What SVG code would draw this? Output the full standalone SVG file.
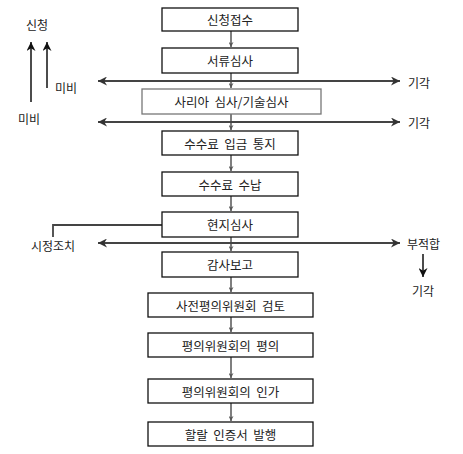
<svg xmlns="http://www.w3.org/2000/svg" width="463" height="454" viewBox="0 0 463 454">
<style>
.box{fill:#fff;stroke:#111;stroke-width:1.3}
.gbox{fill:#fff;stroke:#777;stroke-width:1.3}
.t{font-family:"Noto Sans CJK KR","Noto Sans",sans-serif;font-size:12.5px;fill:#222;text-anchor:middle;dominant-baseline:central}
.lbl{font-family:"Noto Sans CJK KR","Noto Sans",sans-serif;font-size:12px;fill:#222;dominant-baseline:central}
.v{stroke:#555;stroke-width:1.5;fill:none;marker-end:url(#sm)}
.h{stroke:#444;stroke-width:2;fill:none;marker-end:url(#big)}
.k{stroke:#111;stroke-width:1.5;fill:none;marker-end:url(#blk)}
</style>
<defs>
<marker id="sm" viewBox="0 0 10 10" refX="10" refY="5" markerWidth="5" markerHeight="5" orient="auto" markerUnits="userSpaceOnUse">
<path d="M0,0 L10,5 L0,10 L3,5 Z" fill="#555"/>
</marker>
<marker id="big" viewBox="0 0 10 10" refX="10" refY="5" markerWidth="9" markerHeight="9" orient="auto" markerUnits="userSpaceOnUse">
<path d="M0,0 L10,5 L0,10 L3,5 Z" fill="#333"/>
</marker>
<marker id="blk" viewBox="0 0 10 10" refX="10" refY="5" markerWidth="9" markerHeight="9" orient="auto" markerUnits="userSpaceOnUse">
<path d="M0,0 L10,5 L0,10 L3,5 Z" fill="#111"/>
</marker>
</defs>
<g id="connectors">
<path class="v" d="M231,31 V47"/>
<path class="v" d="M231,73 V88"/>
<path class="v" d="M231,114 V130"/>
<path class="v" d="M231,155 V171"/>
<path class="v" d="M231,196 V211"/>
<path class="v" d="M231,237 V251"/>
<path class="v" d="M231,277 V292"/>
<path class="v" d="M231,317 V332"/>
<path class="v" d="M231,357 V378"/>
<path class="v" d="M231,403 V421"/>
<path class="h" d="M231,81 H400"/>
<path class="h" d="M231,81 H98"/>
<path class="h" d="M231,122 H400"/>
<path class="h" d="M231,122 H98"/>
<path class="h" d="M231,243 H400"/>
<path class="h" d="M231,243 H98"/>
<path d="M162,225 H53 V237" stroke="#444" stroke-width="1.8" fill="none"/>
<path class="k" d="M31,102 V42"/>
<path class="k" d="M47,88 V42"/>
<path class="k" d="M423,254 V277"/>
</g>
<g id="n1"><rect class="box" x="162" y="8" width="136" height="23"/><text class="t" x="230" y="19.5">신청접수</text></g>
<g id="n2"><rect class="box" x="162" y="48" width="136" height="25"/><text class="t" x="230" y="60.5">서류심사</text></g>
<g id="n3"><rect class="gbox" x="142" y="89" width="179" height="25"/><text class="t" x="231.5" y="101.5" xml:space="preserve">사리아  심사/기술심사</text></g>
<g id="n4"><rect class="box" x="162" y="131" width="136" height="24"/><text class="t" x="230" y="143" xml:space="preserve">수수료  입금  통지</text></g>
<g id="n5"><rect class="box" x="162" y="172" width="136" height="24"/><text class="t" x="230" y="184" xml:space="preserve">수수료  수납</text></g>
<g id="n6"><rect class="box" x="162" y="212" width="136" height="25"/><text class="t" x="230" y="224.5">현지심사</text></g>
<g id="n7"><rect class="box" x="162" y="252" width="136" height="25"/><text class="t" x="230" y="264.5">감사보고</text></g>
<g id="n8"><rect class="box" x="148" y="293" width="165" height="24"/><text class="t" x="230.5" y="305" xml:space="preserve">사전평의위원회  검토</text></g>
<g id="n9"><rect class="box" x="148" y="333" width="165" height="24"/><text class="t" x="230.5" y="345" xml:space="preserve">평의위원회의  평의</text></g>
<g id="n10"><rect class="box" x="148" y="379" width="165" height="24"/><text class="t" x="230.5" y="391" xml:space="preserve">평의위원회의  인가</text></g>
<g id="n11"><rect class="box" x="148" y="422" width="165" height="24"/><text class="t" x="230.5" y="434" xml:space="preserve">할랄  인증서  발행</text></g>
<g id="labels">
<text class="lbl" x="26" y="24">신청</text>
<text class="lbl" x="55" y="87">미비</text>
<text class="lbl" x="18" y="118">미비</text>
<text class="lbl" x="408" y="82">기각</text>
<text class="lbl" x="408" y="122">기각</text>
<text class="lbl" x="31" y="245">시정조치</text>
<text class="lbl" x="407" y="243">부적합</text>
<text class="lbl" x="412" y="290">기각</text>
</g>
</svg>
